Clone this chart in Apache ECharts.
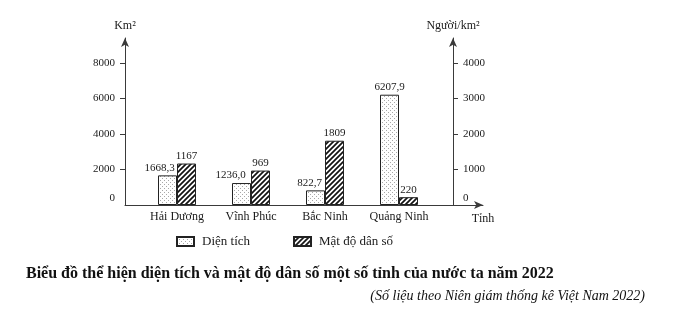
<!DOCTYPE html>
<html>
<head>
<meta charset="utf-8">
<script src="https://cdn.jsdelivr.net/npm/echarts@6/dist/echarts.min.js"></script>
<style>
  html, body { margin: 0; padding: 0; background: #fff; }
  #chart { width: 675px; height: 322px; }
</style>
</head>
<body>
<div id="chart"></div>
<script>
// Provinces and their 2022 figures
const categories = ['Hải Dương', 'Vĩnh Phúc', 'Bắc Ninh', 'Quảng Ninh'];
const areaKm2 = [1668.3, 1236.0, 822.7, 6207.9];
const densityPerKm2 = [1167, 969, 1809, 220];
const areaTicks = [0, 2000, 4000, 6000, 8000];
const densityTicks = [0, 1000, 2000, 3000, 4000];

// Horizontal nudges for the area labels so they clear the neighbouring label
const areaLabelShift = [-8, -11, -6, 0];

const FONT = '"Liberation Serif", "Times New Roman", serif';
const INK = '#1a1a1a';
const AXIS = '#3a3a3a';

function dotPattern() {
  const c = document.createElement('canvas');
  c.width = 4; c.height = 4;
  const g = c.getContext('2d');
  g.fillStyle = '#ffffff';
  g.fillRect(0, 0, 4, 4);
  g.fillStyle = '#a8a8a8';
  g.fillRect(0, 0, 1, 1);
  g.fillRect(2, 2, 1, 1);
  return c;
}

function hatchPattern() {
  const s = 5;
  const c = document.createElement('canvas');
  c.width = s; c.height = s;
  const g = c.getContext('2d');
  g.fillStyle = '#ffffff';
  g.fillRect(0, 0, s, s);
  g.strokeStyle = '#111111';
  g.lineWidth = 1.7;
  g.beginPath();
  g.moveTo(-1, s + 1); g.lineTo(s + 1, -1);
  g.moveTo(-1, 1); g.lineTo(1, -1);
  g.moveTo(s - 1, s + 1); g.lineTo(s + 1, s - 1);
  g.stroke();
  return c;
}

const fmtArea = v => v.toFixed(1).replace('.', ',');

const chart = echarts.init(document.getElementById('chart'));

const zeroRaised = {
  z: { padding: [0, 0, 13, 0], fontFamily: FONT, fontSize: 11, color: INK }
};

chart.setOption({
  animation: false,
  backgroundColor: '#ffffff',
  textStyle: { fontFamily: FONT },
  title: [
    {
      text: 'Biểu đồ thể hiện diện tích và mật độ dân số một số tỉnh của nước ta năm 2022',
      left: 26, top: 266, padding: 0,
      textStyle: { fontFamily: FONT, fontSize: 16, fontWeight: 'bold', color: '#111' }
    },
    {
      text: '(Số liệu theo Niên giám thống kê Việt Nam 2022)',
      right: 30, top: 289, padding: 0,
      textStyle: { fontFamily: FONT, fontSize: 14, fontWeight: 'normal', fontStyle: 'italic', color: '#111' }
    }
  ],
  legend: {
    left: 176, top: 235, padding: 0,
    itemWidth: 17, itemHeight: 9, itemGap: 43,
    icon: 'rect',
    textStyle: { fontFamily: FONT, fontSize: 13, color: INK, padding: [0, 0, 0, 3] },
    data: ['Diện tích', 'Mật độ dân số']
  },
  grid: [
    // plotting area for the bars
    { left: 140, width: 296, top: 38, bottom: 117 },
    // frame carrying the long horizontal axis with its arrow
    { left: 125, width: 358, top: 38, bottom: 117 }
  ],
  xAxis: [
    {
      type: 'category', gridIndex: 0, data: categories,
      axisLine: { show: false }, axisTick: { show: false },
      axisLabel: { interval: 0, margin: 6, fontFamily: FONT, fontSize: 12, color: INK },
      splitLine: { show: false }
    },
    {
      type: 'value', gridIndex: 1, min: 0, max: 1,
      axisLine: { show: true, lineStyle: { color: AXIS, width: 1 }, symbol: ['none', 'arrow'], symbolSize: [6, 9] },
      axisTick: { show: false }, axisLabel: { show: false }, splitLine: { show: false },
      name: 'Tỉnh', nameLocation: 'end', nameGap: 0,
      nameTextStyle: { fontFamily: FONT, fontSize: 12, color: INK, align: 'center', verticalAlign: 'top', padding: [8, 0, 0, 0] }
    }
  ],
  yAxis: [
    {
      type: 'value', gridIndex: 0, position: 'left', offset: 15,
      min: 0, max: 9400,
      name: 'Km²', nameLocation: 'end', nameGap: 6,
      nameTextStyle: { fontFamily: FONT, fontSize: 12, color: INK, align: 'center' },
      axisLine: { show: true, lineStyle: { color: AXIS, width: 1 }, symbol: ['none', 'arrow'], symbolSize: [6, 9] },
      axisTick: { show: true, length: 5, lineStyle: { color: AXIS }, customValues: areaTicks.slice(1) },
      axisLabel: {
        margin: 10, fontFamily: FONT, fontSize: 11, color: INK,
        customValues: areaTicks,
        formatter: v => (v === 0 ? '{z|0}' : String(v)),
        rich: zeroRaised
      },
      splitLine: { show: false }
    },
    {
      type: 'value', gridIndex: 0, position: 'right', offset: 17,
      min: 0, max: 4700,
      name: 'Người/km²', nameLocation: 'end', nameGap: 6,
      nameTextStyle: { fontFamily: FONT, fontSize: 12, color: INK, align: 'center' },
      axisLine: { show: true, lineStyle: { color: AXIS, width: 1 }, symbol: ['none', 'arrow'], symbolSize: [6, 9] },
      axisTick: { show: true, length: 5, lineStyle: { color: AXIS }, customValues: densityTicks.slice(1) },
      axisLabel: {
        margin: 10, fontFamily: FONT, fontSize: 11, color: INK,
        customValues: densityTicks,
        formatter: v => (v === 0 ? '{z|0}' : String(v)),
        rich: zeroRaised
      },
      splitLine: { show: false }
    },
    {
      type: 'value', gridIndex: 1, min: 0, max: 1, show: false
    }
  ],
  series: [
    {
      name: 'Diện tích', type: 'bar',
      xAxisIndex: 0, yAxisIndex: 0,
      barWidth: 19, barGap: '0%',
      itemStyle: { color: { image: dotPattern(), repeat: 'repeat' }, borderColor: '#222', borderWidth: 1 },
      label: {
        show: true, position: 'top', distance: 2,
        fontFamily: FONT, fontSize: 11, color: INK,
        formatter: p => fmtArea(p.value)
      },
      data: areaKm2.map((v, i) => ({ value: v, label: { offset: [areaLabelShift[i], 0] } }))
    },
    {
      name: 'Mật độ dân số', type: 'bar',
      xAxisIndex: 0, yAxisIndex: 1,
      barWidth: 19, barGap: '0%',
      itemStyle: { color: { image: hatchPattern(), repeat: 'repeat' }, borderColor: '#222', borderWidth: 1 },
      label: {
        show: true, position: 'top', distance: 2,
        fontFamily: FONT, fontSize: 11, color: INK
      },
      data: densityPerKm2
    }
  ]
});
</script>
</body>
</html>
